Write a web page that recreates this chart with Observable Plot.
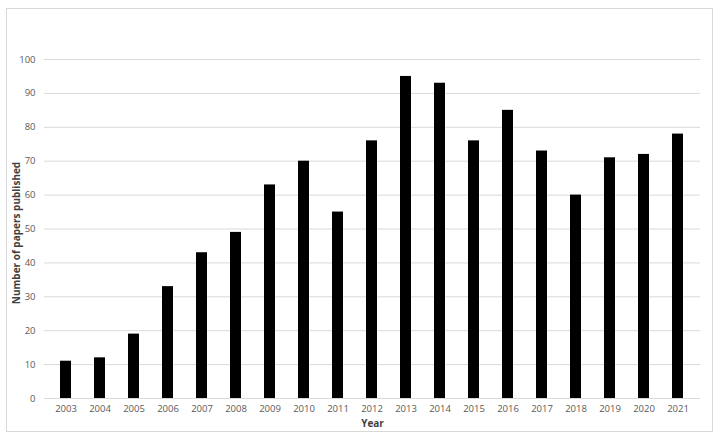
<!DOCTYPE html>
<html>
<head>
<meta charset="utf-8">
<script src="https://cdn.jsdelivr.net/npm/d3@7"></script>
<script src="https://cdn.jsdelivr.net/npm/@observablehq/plot@0.6"></script>
<style>
  html, body { margin: 0; padding: 0; background: #fff; }
  #wrap { position: relative; width: 720px; height: 439px; }
  #border { position: absolute; left: 6px; top: 8px; width: 705px; height: 422px; border: 1px solid #d9d9d9; pointer-events: none; }
  #chart { position: absolute; left: 0; top: 0; }
</style>
</head>
<body>
<div id="wrap"><div id="border"></div><div id="chart"></div></div>
<script>
const years = ["2003","2004","2005","2006","2007","2008","2009","2010","2011","2012","2013","2014","2015","2016","2017","2018","2019","2020","2021"];
const papers = [11,12,19,33,43,49,63,70,55,76,95,93,76,85,73,60,71,72,78];
const yTicks = [0,10,20,30,40,50,60,70,80,90,100];
const xTitle = "Year";
const yTitle = "Number of papers published";

const data = years.map((y, i) => ({year: y, value: papers[i]}));
const font = "'Open Sans', 'Noto Sans', sans-serif";

const chart = Plot.plot({
  width: 720,
  height: 439,
  marginLeft: 44,
  marginRight: 20,
  marginTop: 59,
  marginBottom: 41,
  style: {fontFamily: font, fontSize: "9.5px", background: "transparent"},
  x: {domain: years, paddingInner: 0.67, paddingOuter: 0.335, label: null, tickSize: 0, tickPadding: 7},
  y: {domain: [0, 100], ticks: yTicks, label: null, tickSize: 0, tickPadding: 9},
  marks: [
    Plot.ruleY(yTicks, {stroke: "#d9d9d9", strokeWidth: 1}),
    Plot.barY(data, {x: "year", y: "value", fill: "#000"}),
    Plot.axisX({tickSize: 0, tickPadding: 7, color: "#595959", label: null}),
    Plot.axisY({ticks: yTicks, tickSize: 0, tickPadding: 9, color: "#595959", label: null}),
    Plot.text([xTitle], {text: d => d, frameAnchor: "bottom", dy: 28, fontWeight: "bold", fontSize: 10, fill: "#404040"}),
    Plot.text([yTitle], {text: d => d, frameAnchor: "left", textAnchor: "middle", dx: -28, dy: 4, rotate: -90, fontWeight: "bold", fontSize: 10, fill: "#404040"})
  ]
});
document.getElementById("chart").appendChild(chart);
</script>
</body>
</html>
